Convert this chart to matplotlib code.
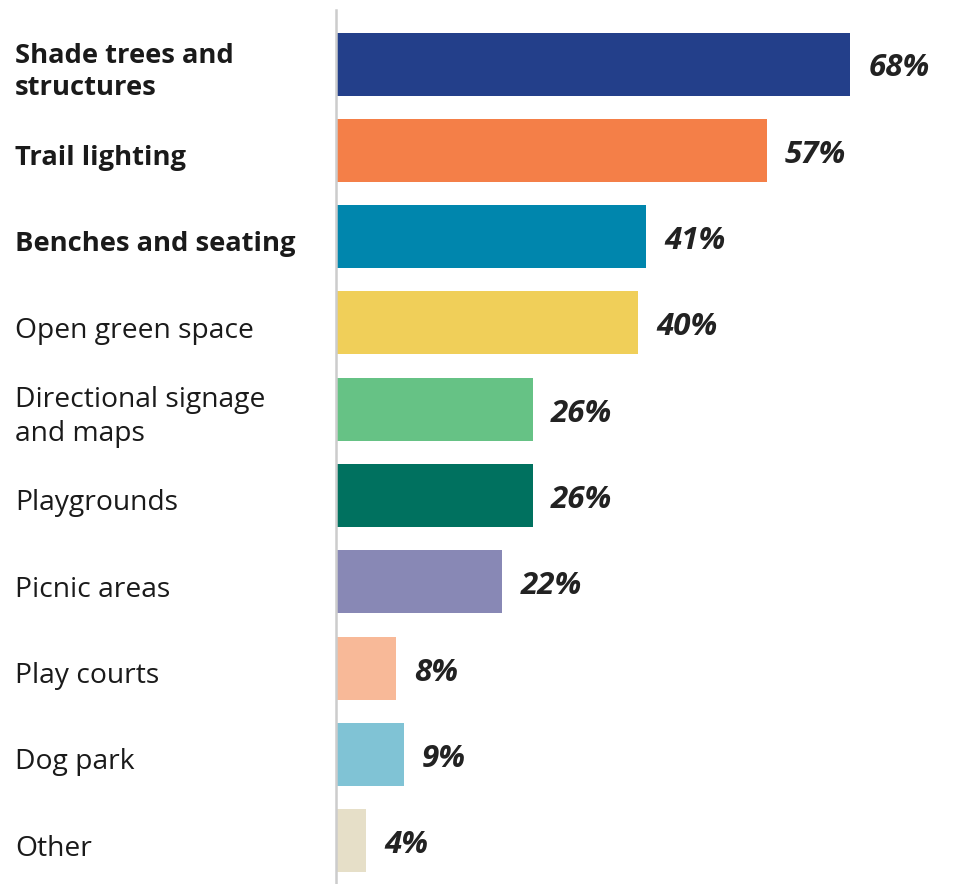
import matplotlib.pyplot as plt

categories = ["Shade trees and\nstructures", "Trail lighting", "Benches and seating",
              "Open green space", "Directional signage\nand maps", "Playgrounds",
              "Picnic areas", "Play courts", "Dog park", "Other"]
values = [68, 57, 41, 40, 26, 26, 22, 8, 9, 4]
bold_rows = [0, 1, 2]
colors = ["#233F8A", "#F47F48", "#0086AD", "#F0CF59", "#66C285",
          "#00715F", "#8888B5", "#F8B998", "#80C3D5", "#E6DFC8"]

plt.rcParams['font.family'] = ['Open Sans', 'DejaVu Sans']

W, H = 957, 884
fig = plt.figure(figsize=(W / 100, H / 100), dpi=100)
ax = fig.add_axes([336 / W, 0, 1 - 336 / W, 1 - 10 / H])

y = list(range(len(values)))
ax.barh(y, values, height=0.73, color=colors)
ax.set_xlim(0, (W - 336) / 7.56)
ax.set_ylim(9.5, -0.626)

for i, v in enumerate(values):
    ax.text(v + 2.4, i + 0.05, f"{v}%", va='center', ha='left', fontsize=22.5,
            fontweight='bold', style='italic', color='#222222')

for i, c in enumerate(categories):
    bold = i in bold_rows
    ax.text(15 / W, ax.transData.transform((0, i + 0.09))[1] / H, c, transform=fig.transFigure,
            va='center', ha='left', fontsize=19.7 if bold else 20.3, linespacing=1.32,
            fontweight='bold' if bold else 'normal', color='#1a1a1a')

ax.set_xticks([])
ax.set_yticks([])
for s in ['top', 'right', 'bottom']:
    ax.spines[s].set_visible(False)
ax.spines['left'].set_color('#CCCCCC')
ax.spines['left'].set_linewidth(1.8)

fig.savefig('out.png', dpi=100)
